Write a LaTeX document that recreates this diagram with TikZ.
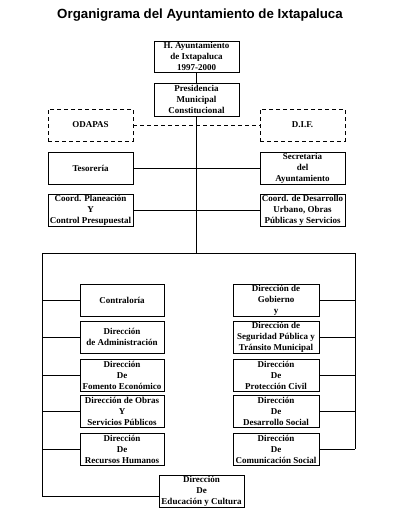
\documentclass[tikz,border=0pt]{standalone}
\usepackage{fontspec}
\setmainfont{Liberation Serif}
\newfontfamily\titlefont{Liberation Sans}
\begin{document}
\begin{tikzpicture}[x=1pt,y=-1pt,
  box/.style={draw, line width=0.8pt, minimum width=85pt, minimum height=32pt, inner sep=0pt, align=center, font=\bfseries\fontsize{9}{11}\selectfont},
  dbox/.style={box, dash pattern=on 4pt off 3pt},
  conn/.style={line width=0.8pt},
  dconn/.style={line width=0.8pt, dash pattern=on 4pt off 3pt}]
\useasboundingbox (0,0) rectangle (400,514);
\node[font=\titlefont\bfseries\fontsize{13.3}{15}\selectfont] (title) at (200,15) {Organigrama del Ayuntamiento de Ixtapaluca};

\node[box, minimum height=31pt] (h) at (196.5,56.5) {H. Ayuntamiento\\de Ixtapaluca\\1997-2000};
\node[box, minimum height=33pt] (pres) at (196.5,99.5) {Presidencia\\Municipal\\Constitucional};
\node[dbox] (odapas) at (90.5,125) {ODAPAS};
\node[dbox] (dif) at (302.5,125) {D.I.F.};
\node[box] (tes) at (90.5,168) {Tesorería};
\node[box] (sec) at (302.5,168) {Secretaría\\del\\Ayuntamiento};
\node[box] (cpl) at (90.5,210) {Coord. Planeación\\Y\\Control Presupuestal};
\node[box] (cdu) at (302.5,210) {Coord. de Desarrollo\\Urbano, Obras\\Públicas y Servicios};

\node[box, minimum width=84pt] (contra) at (122,300) {Contraloría};
\node[box, minimum width=84pt] (adm) at (122,337) {Dirección\\de Administración};
\node[box, minimum width=84pt] (fom) at (122,375) {Dirección\\De\\Fomento Económico};
\node[box, minimum width=84pt] (obr) at (122,411.5) {Dirección de Obras\\Y\\Servicios Públicos};
\node[box, minimum width=84pt] (rh) at (122,449) {Dirección\\De\\Recursos Humanos};

\node[box, minimum width=86pt] (gob) at (276,300) {Dirección de\\Gobierno\\y};
\node[box, minimum width=86pt] (seg) at (276,337) {Dirección de\\Seguridad Pública y\\Tránsito Municipal};
\node[box, minimum width=86pt] (pc) at (276,375) {Dirección\\De\\Protección Civil};
\node[box, minimum width=86pt] (ds) at (276,411.5) {Dirección\\De\\Desarrollo Social};
\node[box, minimum width=86pt] (cs) at (276,449) {Dirección\\De\\Comunicación Social};

\node[box] (edu) at (201.5,491) {Dirección\\De\\Educación y Cultura};

\coordinate (top) at (196.5,253);
\coordinate (tl) at (42,253);
\coordinate (tr) at (355,253);
\coordinate (bl) at (42,496);
\coordinate (br) at (355,449);

\draw[conn] (h) -- (pres);
\draw[conn] (pres) -- (top);
\draw[dconn] (odapas) -- (dif);
\draw[conn] (tes) -- (sec);
\draw[conn] (cpl) -- (cdu);
\draw[conn] (bl) -- (tl) -- (tr) -- (br);
\foreach \n in {contra,adm,fom,obr,rh} \draw[conn] (\n.west) -- (\n.west -| tl);
\foreach \n in {gob,seg,pc,ds,cs} \draw[conn] (\n.east) -- (\n.east -| tr);
\draw[conn] (bl) -- (bl -| edu.west);
\end{tikzpicture}
\end{document}
